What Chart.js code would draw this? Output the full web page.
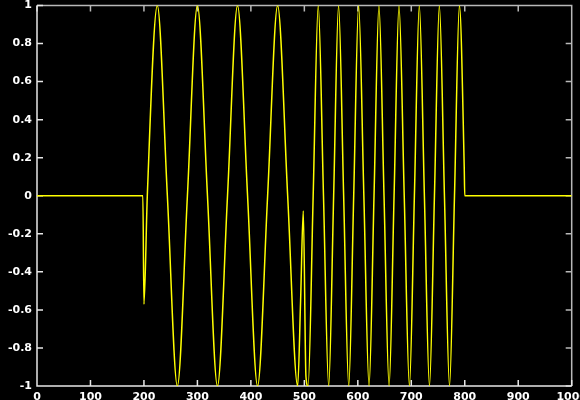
<!DOCTYPE html>
<html>
<head>
<meta charset="utf-8">
<script src="https://cdn.jsdelivr.net/npm/chart.js@4.4.0/dist/chart.umd.min.js"></script>
<style>
    html, body {
        margin: 0;
        padding: 0;
        background: #000;
        overflow: hidden;
        width: 580px;
        height: 400px;
    }
    #plot {
        position: absolute;
        left: 0;
        top: -10px;
    }
</style>
</head>
<body>
<canvas id="plot" width="600" height="430"></canvas>
<script>
// Signal: flat, then a sine of period ~75 up to 500,
// a glitch, then a sine of period ~37.7 up to 800, then flat again
const sigX = [
    0, 198, 200,
    206.3, 225, 243.8, 262.5, 281.3, 300, 318.8, 337.5,
    356.3, 375, 393.8, 412.5, 431.3, 450, 468.8, 487.5,
    493, 498, 503, 507,
    516.5, 526, 535.8, 545.5, 554.8, 564, 573.5, 583,
    592.3, 601.5, 611.3, 621, 630.3, 639.5, 649, 658.5,
    667.8, 677, 686.8, 696.5, 705.8, 715, 724.5, 734,
    743.3, 752.5, 762, 771.5, 780.8, 790,
    799, 800, 1000
];
const sigY = [
    0, 0, -0.57,
    0, 1, 0, -1, 0, 1, 0, -1,
    0, 1, 0, -1, 0, 1, 0, -1,
    -0.55, -0.08, -0.95, -1,
    0, 1, 0, -1, 0, 1, 0, -1,
    0, 1, 0, -1, 0, 1, 0, -1,
    0, 1, 0, -1, 0, 1, 0, -1,
    0, 1, 0, -1, 0, 1,
    0.15, 0, 0
];

const xTicks = [0, 100, 200, 300, 400, 500, 600, 700, 800, 900, 1000];
const xTickLabels = ['0', '100', '200', '300', '400', '500', '600', '700', '800', '900', '1000'];
const yTicks = [-1, -0.8, -0.6, -0.4, -0.2, 0, 0.2, 0.4, 0.6, 0.8, 1];
const yTickLabels = ['-1', '-0.8', '-0.6', '-0.4', '-0.2', '0', '0.2', '0.4', '0.6', '0.8', '1'];

const labelFont = { family: 'DejaVu Sans', size: 11, weight: 'bold' };

// Box round the plot with inward tick marks on all four sides
const framePlugin = {
    id: 'frame',
    beforeDatasetsDraw(chart) {
        const { ctx, chartArea: a, scales } = chart;
        const x = scales.x, y = scales.y;
        const len = 6;
        ctx.save();
        ctx.lineWidth = 1.5;

        ctx.strokeStyle = '#b8b8b8';
        ctx.beginPath();
        ctx.moveTo(a.left, a.top);
        ctx.lineTo(a.right, a.top);
        ctx.lineTo(a.right, a.bottom);
        xTicks.forEach(v => {
            const px = x.getPixelForValue(v);
            ctx.moveTo(px, a.top);
            ctx.lineTo(px, a.top + len);
        });
        yTicks.forEach(v => {
            const py = y.getPixelForValue(v);
            ctx.moveTo(a.right, py);
            ctx.lineTo(a.right - len, py);
        });
        ctx.stroke();

        ctx.strokeStyle = '#e8e8e8';
        ctx.beginPath();
        ctx.moveTo(a.left, a.top);
        ctx.lineTo(a.left, a.bottom);
        ctx.lineTo(a.right, a.bottom);
        xTicks.forEach(v => {
            const px = x.getPixelForValue(v);
            ctx.moveTo(px, a.bottom);
            ctx.lineTo(px, a.bottom - len);
        });
        yTicks.forEach(v => {
            const py = y.getPixelForValue(v);
            ctx.moveTo(a.left, py);
            ctx.lineTo(a.left + len, py);
        });
        ctx.stroke();
        ctx.restore();
    }
};

new Chart(document.getElementById('plot'), {
    type: 'line',
    data: {
        datasets: [{
            data: sigX.map((v, i) => ({ x: v, y: sigY[i] })),
            borderColor: '#ffff00',
            borderWidth: 1.5,
            pointRadius: 0,
            fill: false,
            cubicInterpolationMode: 'monotone'
        }]
    },
    options: {
        responsive: false,
        animation: false,
        events: [],
        layout: {
            padding: { top: 15.5, right: 28.3, bottom: 0, left: 0 }
        },
        plugins: {
            legend: { display: false },
            tooltip: { enabled: false }
        },
        scales: {
            x: {
                type: 'linear',
                min: 0,
                max: 1000,
                grid: { display: false, drawTicks: false },
                border: { display: false },
                afterBuildTicks: s => { s.ticks = xTicks.map(v => ({ value: v })); },
                afterFit: s => { s.height = 34; },
                ticks: {
                    color: '#ffffff',
                    font: labelFont,
                    padding: 5,
                    maxRotation: 0,
                    autoSkip: false,
                    callback: (v, i) => xTickLabels[i]
                }
            },
            y: {
                type: 'linear',
                min: -1,
                max: 1,
                grid: { display: false, drawTicks: false },
                border: { display: false },
                afterBuildTicks: s => { s.ticks = yTicks.map(v => ({ value: v })); },
                afterFit: s => { s.width = 37; },
                ticks: {
                    color: '#ffffff',
                    font: labelFont,
                    padding: 5,
                    autoSkip: false,
                    callback: (v, i) => yTickLabels[i]
                }
            }
        }
    },
    plugins: [framePlugin]
});
</script>
</body>
</html>
